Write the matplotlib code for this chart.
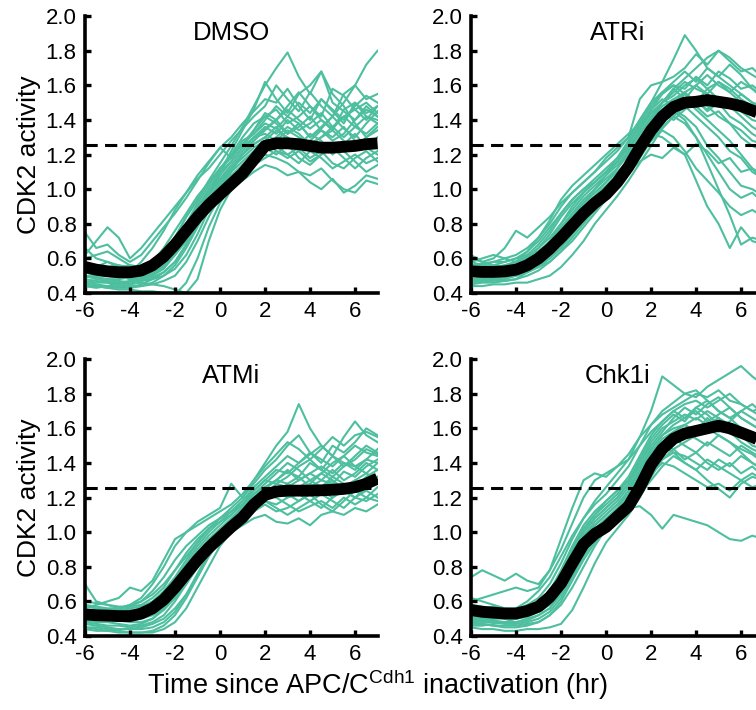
import numpy as np
import matplotlib
matplotlib.use("Agg")
import matplotlib.pyplot as plt

plt.rcParams['font.family'] = ['Liberation Sans', 'DejaVu Sans']
plt.rcParams['axes.unicode_minus'] = False

# time grid, every half hour from -6 to 7 hr
t = np.arange(-6, 7.01, 0.5)

titles = ["DMSO", "ATRi", "ATMi", "Chk1i"]
threshold = 1.255

dmso_mean = [0.55, 0.535, 0.525, 0.52, 0.52, 0.53, 0.56, 0.61, 0.68, 0.76, 0.84, 0.91, 0.97, 1.03,
             1.09, 1.17, 1.25, 1.265, 1.265, 1.26, 1.25, 1.24, 1.24, 1.245, 1.25, 1.26, 1.265]
dmso_cells = [
    [0.75, 0.66, 0.68, 0.62, 0.58, 0.62, 0.70, 0.78, 0.86, 0.95, 1.05, 1.15, 1.24, 1.30, 1.38, 1.45, 1.52, 1.50, 1.58, 1.48, 1.40, 1.52, 1.45, 1.38, 1.50, 1.42, 1.40],
    [0.62, 0.70, 0.78, 0.72, 0.60, 0.66, 0.74, 0.82, 0.90, 0.98, 1.06, 1.12, 1.20, 1.28, 1.35, 1.42, 1.48, 1.60, 1.52, 1.45, 1.56, 1.48, 1.42, 1.55, 1.60, 1.52, 1.55],
    [0.45, 0.44, 0.43, 0.42, 0.42, 0.41, 0.41, 0.40, 0.39, 0.46, 0.60, 0.78, 0.92, 1.02, 1.10, 1.16, 1.20, 1.18, 1.15, 1.10, 1.08, 1.12, 1.05, 1.00, 0.98, 1.05, 1.03],
    [0.50, 0.48, 0.47, 0.46, 0.45, 0.46, 0.45, 0.44, 0.42, 0.40, 0.48, 0.70, 0.88, 1.00, 1.08, 1.14, 1.18, 1.22, 1.20, 1.15, 1.22, 1.18, 1.12, 1.16, 1.20, 1.15, 1.18],
    [0.55, 0.52, 0.50, 0.50, 0.49, 0.50, 0.54, 0.62, 0.72, 0.84, 0.94, 1.05, 1.15, 1.25, 1.36, 1.48, 1.60, 1.70, 1.79, 1.65, 1.55, 1.68, 1.50, 1.45, 1.40, 1.48, 1.42],
    [0.48, 0.47, 0.46, 0.45, 0.46, 0.48, 0.52, 0.60, 0.70, 0.80, 0.90, 0.98, 1.05, 1.12, 1.20, 1.28, 1.35, 1.40, 1.32, 1.38, 1.30, 1.35, 1.42, 1.50, 1.60, 1.72, 1.80],
    [0.58, 0.56, 0.54, 0.53, 0.52, 0.50, 0.50, 0.54, 0.62, 0.70, 0.80, 0.88, 0.95, 1.00, 1.05, 1.10, 1.14, 1.12, 1.08, 1.10, 1.04, 1.00, 1.06, 0.98, 1.02, 1.08, 1.06],
    [0.52, 0.50, 0.50, 0.49, 0.52, 0.58, 0.66, 0.76, 0.88, 0.98, 1.08, 1.16, 1.24, 1.18, 1.28, 1.32, 1.38, 1.35, 1.42, 1.38, 1.30, 1.36, 1.42, 1.35, 1.30, 1.38, 1.45],
    [0.46, 0.45, 0.44, 0.44, 0.43, 0.45, 0.48, 0.52, 0.58, 0.68, 0.80, 0.92, 1.02, 1.10, 1.16, 1.22, 1.28, 1.34, 1.30, 1.25, 1.32, 1.28, 1.20, 1.26, 1.32, 1.24, 1.20],
    [0.66, 0.60, 0.58, 0.55, 0.56, 0.55, 0.58, 0.66, 0.76, 0.86, 0.96, 1.04, 1.10, 1.16, 1.24, 1.34, 1.44, 1.40, 1.48, 1.56, 1.48, 1.42, 1.58, 1.54, 1.46, 1.40, 1.48],
    [0.52, 0.55, 0.58, 0.56, 0.54, 0.54, 0.56, 0.60, 0.66, 0.74, 0.84, 0.94, 1.04, 1.12, 1.20, 1.26, 1.30, 1.25, 1.20, 1.24, 1.18, 1.22, 1.15, 1.12, 1.18, 1.22, 1.16],
    [0.44, 0.43, 0.44, 0.46, 0.47, 0.48, 0.50, 0.56, 0.64, 0.74, 0.86, 0.98, 1.10, 1.22, 1.34, 1.46, 1.62, 1.52, 1.44, 1.55, 1.60, 1.68, 1.55, 1.48, 1.38, 1.30, 1.36],
    [0.50, 0.49, 0.48, 0.48, 0.49, 0.50, 0.52, 0.56, 0.64, 0.74, 0.86, 0.98, 1.08, 1.16, 1.24, 1.30, 1.32, 1.28, 1.34, 1.30, 1.26, 1.30, 1.34, 1.28, 1.24, 1.30, 1.34],
    [0.56, 0.54, 0.52, 0.51, 0.50, 0.51, 0.53, 0.58, 0.66, 0.78, 0.90, 1.00, 1.10, 1.20, 1.30, 1.38, 1.42, 1.46, 1.38, 1.42, 1.48, 1.40, 1.35, 1.42, 1.46, 1.50, 1.44],
    [0.54, 0.53, 0.52, 0.50, 0.50, 0.50, 0.51, 0.55, 0.62, 0.72, 0.84, 0.96, 1.06, 1.14, 1.22, 1.30, 1.36, 1.32, 1.40, 1.34, 1.38, 1.44, 1.36, 1.30, 1.36, 1.42, 1.38],
    [0.47, 0.46, 0.46, 0.45, 0.44, 0.44, 0.46, 0.50, 0.56, 0.66, 0.78, 0.90, 1.00, 1.08, 1.14, 1.20, 1.24, 1.20, 1.26, 1.18, 1.14, 1.20, 1.26, 1.22, 1.16, 1.10, 1.14],
    [0.60, 0.62, 0.64, 0.60, 0.56, 0.55, 0.57, 0.62, 0.70, 0.80, 0.92, 1.02, 1.12, 1.20, 1.26, 1.32, 1.40, 1.48, 1.42, 1.50, 1.44, 1.52, 1.46, 1.40, 1.48, 1.54, 1.50],
    [0.50, 0.49, 0.48, 0.47, 0.46, 0.47, 0.49, 0.52, 0.58, 0.68, 0.80, 0.92, 1.02, 1.12, 1.20, 1.26, 1.30, 1.36, 1.28, 1.22, 1.28, 1.34, 1.30, 1.36, 1.28, 1.24, 1.30],
    [0.44, 0.44, 0.43, 0.43, 0.43, 0.44, 0.45, 0.47, 0.50, 0.58, 0.70, 0.84, 0.96, 1.06, 1.14, 1.20, 1.26, 1.30, 1.36, 1.32, 1.26, 1.30, 1.36, 1.42, 1.36, 1.32, 1.38],
    [0.57, 0.56, 0.55, 0.56, 0.55, 0.54, 0.56, 0.62, 0.72, 0.84, 0.94, 1.04, 1.12, 1.18, 1.26, 1.34, 1.42, 1.38, 1.32, 1.36, 1.42, 1.34, 1.28, 1.32, 1.40, 1.46, 1.42],
    [0.52, 0.51, 0.50, 0.50, 0.48, 0.49, 0.52, 0.58, 0.68, 0.80, 0.90, 0.98, 1.06, 1.12, 1.18, 1.24, 1.28, 1.22, 1.18, 1.22, 1.16, 1.20, 1.24, 1.18, 1.12, 1.18, 1.22],
    [0.49, 0.50, 0.52, 0.50, 0.48, 0.47, 0.48, 0.50, 0.54, 0.62, 0.74, 0.88, 1.00, 1.10, 1.20, 1.28, 1.34, 1.40, 1.46, 1.40, 1.35, 1.40, 1.34, 1.46, 1.50, 1.44, 1.48],
]

atri_mean = [0.525, 0.522, 0.522, 0.525, 0.535, 0.56, 0.60, 0.655, 0.72, 0.79, 0.86, 0.92, 0.97, 1.04,
             1.13, 1.24, 1.34, 1.42, 1.475, 1.50, 1.505, 1.515, 1.505, 1.495, 1.48, 1.455, 1.43]
atri_cells = [
    [0.62, 0.58, 0.60, 0.66, 0.76, 0.72, 0.78, 0.84, 0.92, 0.98, 1.04, 1.10, 1.18, 1.24, 1.30, 1.52, 1.60, 1.62, 1.65, 1.70, 1.78, 1.72, 1.80, 1.76, 1.70, 1.66, 1.62],
    [0.55, 0.56, 0.58, 0.60, 0.62, 0.66, 0.72, 0.80, 0.90, 0.98, 1.04, 1.10, 1.16, 1.22, 1.30, 1.40, 1.50, 1.62, 1.75, 1.89, 1.80, 1.70, 1.65, 1.60, 1.55, 1.50, 1.48],
    [0.50, 0.50, 0.52, 0.52, 0.54, 0.58, 0.64, 0.70, 0.78, 0.86, 0.92, 0.98, 1.04, 1.10, 1.16, 1.22, 1.30, 1.38, 1.45, 1.40, 1.30, 1.15, 1.00, 0.85, 0.68, 0.72, 0.70],
    [0.46, 0.47, 0.48, 0.50, 0.52, 0.55, 0.58, 0.64, 0.72, 0.80, 0.88, 0.95, 1.00, 1.08, 1.16, 1.25, 1.32, 1.30, 1.25, 1.20, 1.05, 0.90, 0.80, 0.66, 0.78, 0.70, 0.68],
    [0.56, 0.54, 0.53, 0.52, 0.52, 0.54, 0.56, 0.60, 0.66, 0.74, 0.82, 0.88, 0.95, 1.02, 1.10, 1.18, 1.28, 1.36, 1.42, 1.38, 1.30, 1.20, 1.10, 1.00, 0.95, 0.98, 0.92],
    [0.44, 0.44, 0.45, 0.45, 0.46, 0.46, 0.48, 0.50, 0.55, 0.62, 0.70, 0.80, 0.88, 0.96, 1.05, 1.15, 1.25, 1.35, 1.42, 1.48, 1.52, 1.45, 1.50, 1.42, 1.38, 1.32, 1.28],
    [0.52, 0.50, 0.48, 0.47, 0.48, 0.52, 0.58, 0.66, 0.76, 0.84, 0.92, 0.98, 1.04, 1.12, 1.22, 1.34, 1.46, 1.55, 1.60, 1.58, 1.65, 1.60, 1.68, 1.64, 1.58, 1.60, 1.55],
    [0.58, 0.60, 0.62, 0.60, 0.58, 0.62, 0.68, 0.76, 0.86, 0.94, 1.00, 1.06, 1.12, 1.18, 1.28, 1.40, 1.50, 1.56, 1.62, 1.68, 1.62, 1.70, 1.65, 1.72, 1.66, 1.58, 1.52],
    [0.48, 0.48, 0.49, 0.50, 0.50, 0.52, 0.55, 0.60, 0.66, 0.74, 0.82, 0.90, 0.98, 1.06, 1.14, 1.20, 1.28, 1.34, 1.30, 1.22, 1.12, 1.05, 0.98, 0.90, 0.85, 0.88, 0.84],
    [0.54, 0.55, 0.56, 0.58, 0.60, 0.62, 0.64, 0.68, 0.74, 0.82, 0.90, 0.96, 1.02, 1.08, 1.16, 1.26, 1.36, 1.46, 1.52, 1.56, 1.50, 1.58, 1.52, 1.48, 1.55, 1.50, 1.46],
    [0.50, 0.51, 0.52, 0.54, 0.56, 0.60, 0.66, 0.74, 0.84, 0.92, 0.98, 1.04, 1.10, 1.16, 1.24, 1.32, 1.40, 1.50, 1.58, 1.64, 1.70, 1.76, 1.80, 1.74, 1.68, 1.70, 1.64],
    [0.46, 0.47, 0.47, 0.48, 0.50, 0.52, 0.55, 0.58, 0.64, 0.70, 0.78, 0.86, 0.94, 1.02, 1.10, 1.16, 1.20, 1.18, 1.24, 1.20, 1.26, 1.22, 1.15, 1.18, 1.10, 1.12, 1.08],
    [0.60, 0.58, 0.56, 0.55, 0.56, 0.58, 0.62, 0.70, 0.80, 0.90, 0.98, 1.04, 1.10, 1.18, 1.26, 1.36, 1.46, 1.52, 1.48, 1.55, 1.48, 1.42, 1.45, 1.38, 1.30, 1.25, 1.22],
    [0.52, 0.52, 0.53, 0.55, 0.58, 0.64, 0.72, 0.82, 0.94, 1.02, 1.08, 1.14, 1.20, 1.26, 1.32, 1.38, 1.44, 1.50, 1.58, 1.52, 1.60, 1.55, 1.48, 1.52, 1.45, 1.40, 1.38],
    [0.50, 0.50, 0.51, 0.53, 0.55, 0.58, 0.62, 0.68, 0.76, 0.84, 0.92, 1.00, 1.08, 1.14, 1.22, 1.32, 1.42, 1.50, 1.56, 1.62, 1.58, 1.55, 1.62, 1.58, 1.52, 1.48, 1.44],
    [0.48, 0.49, 0.50, 0.51, 0.52, 0.54, 0.58, 0.64, 0.72, 0.80, 0.88, 0.94, 1.00, 1.06, 1.14, 1.24, 1.34, 1.42, 1.48, 1.52, 1.46, 1.40, 1.34, 1.28, 1.20, 1.12, 1.05],
    [0.56, 0.57, 0.58, 0.58, 0.60, 0.64, 0.70, 0.78, 0.86, 0.94, 1.00, 1.04, 1.10, 1.16, 1.24, 1.34, 1.44, 1.50, 1.54, 1.60, 1.64, 1.58, 1.62, 1.56, 1.50, 1.46, 1.40],
    [0.53, 0.52, 0.51, 0.50, 0.51, 0.54, 0.60, 0.66, 0.74, 0.82, 0.90, 0.96, 1.02, 1.08, 1.16, 1.28, 1.40, 1.48, 1.52, 1.48, 1.42, 1.36, 1.30, 1.22, 1.18, 1.10, 1.06],
    [0.45, 0.46, 0.46, 0.47, 0.48, 0.50, 0.53, 0.58, 0.64, 0.72, 0.80, 0.88, 0.96, 1.04, 1.14, 1.24, 1.36, 1.44, 1.50, 1.56, 1.60, 1.66, 1.60, 1.56, 1.62, 1.58, 1.54],
    [0.58, 0.56, 0.55, 0.56, 0.58, 0.61, 0.66, 0.72, 0.80, 0.88, 0.96, 1.02, 1.08, 1.16, 1.26, 1.38, 1.48, 1.56, 1.60, 1.55, 1.50, 1.46, 1.52, 1.48, 1.42, 1.36, 1.32],
    [0.51, 0.52, 0.54, 0.56, 0.58, 0.60, 0.63, 0.68, 0.76, 0.86, 0.94, 1.00, 1.06, 1.12, 1.20, 1.30, 1.38, 1.44, 1.40, 1.46, 1.52, 1.48, 1.42, 1.38, 1.34, 1.28, 1.26],
    [0.47, 0.48, 0.48, 0.49, 0.50, 0.53, 0.57, 0.62, 0.70, 0.78, 0.86, 0.92, 0.98, 1.04, 1.12, 1.22, 1.32, 1.40, 1.46, 1.42, 1.36, 1.25, 1.18, 1.10, 1.02, 1.00, 0.96],
]

atmi_mean = [0.525, 0.52, 0.518, 0.515, 0.515, 0.53, 0.56, 0.61, 0.68, 0.76, 0.84, 0.91, 0.97, 1.03,
             1.085, 1.16, 1.215, 1.235, 1.24, 1.24, 1.24, 1.242, 1.245, 1.25, 1.26, 1.28, 1.31]
atmi_cells = [
    [0.70, 0.60, 0.58, 0.56, 0.57, 0.60, 0.66, 0.74, 0.84, 0.92, 0.98, 1.04, 1.08, 1.12, 1.16, 1.20, 1.25, 1.30, 1.35, 1.32, 1.40, 1.36, 1.44, 1.38, 1.42, 1.48, 1.45],
    [0.55, 0.54, 0.55, 0.56, 0.58, 0.62, 0.70, 0.80, 0.92, 1.00, 1.06, 1.10, 1.14, 1.28, 1.20, 1.30, 1.40, 1.50, 1.58, 1.74, 1.60, 1.50, 1.44, 1.40, 1.38, 1.42, 1.40],
    [0.45, 0.44, 0.43, 0.43, 0.42, 0.42, 0.43, 0.46, 0.52, 0.62, 0.74, 0.86, 0.95, 1.00, 1.04, 1.08, 1.10, 1.06, 1.05, 1.08, 1.04, 1.10, 1.12, 1.10, 1.14, 1.12, 1.16],
    [0.50, 0.50, 0.50, 0.51, 0.52, 0.54, 0.58, 0.64, 0.72, 0.82, 0.92, 1.00, 1.06, 1.12, 1.18, 1.24, 1.30, 1.36, 1.34, 1.40, 1.45, 1.50, 1.44, 1.55, 1.64, 1.56, 1.52],
    [0.48, 0.47, 0.46, 0.46, 0.45, 0.46, 0.48, 0.52, 0.60, 0.70, 0.80, 0.90, 0.98, 1.04, 1.10, 1.15, 1.18, 1.16, 1.20, 1.22, 1.18, 1.14, 1.20, 1.24, 1.20, 1.18, 1.22],
    [0.56, 0.58, 0.60, 0.62, 0.68, 0.66, 0.72, 0.84, 0.96, 1.00, 1.04, 1.08, 1.12, 1.16, 1.22, 1.30, 1.38, 1.45, 1.52, 1.48, 1.42, 1.48, 1.55, 1.50, 1.56, 1.58, 1.55],
    [0.52, 0.51, 0.50, 0.49, 0.48, 0.48, 0.50, 0.55, 0.62, 0.72, 0.82, 0.92, 1.00, 1.06, 1.12, 1.18, 1.22, 1.28, 1.26, 1.30, 1.34, 1.30, 1.28, 1.35, 1.32, 1.38, 1.42],
    [0.44, 0.43, 0.43, 0.42, 0.42, 0.42, 0.42, 0.44, 0.48, 0.56, 0.68, 0.80, 0.92, 1.00, 1.06, 1.12, 1.16, 1.12, 1.14, 1.18, 1.22, 1.16, 1.12, 1.18, 1.24, 1.20, 1.26],
    [0.58, 0.57, 0.56, 0.56, 0.58, 0.60, 0.64, 0.70, 0.78, 0.86, 0.94, 1.02, 1.08, 1.14, 1.20, 1.28, 1.36, 1.42, 1.50, 1.56, 1.46, 1.40, 1.50, 1.46, 1.52, 1.60, 1.56],
    [0.54, 0.54, 0.53, 0.53, 0.54, 0.55, 0.58, 0.62, 0.70, 0.78, 0.86, 0.94, 1.00, 1.06, 1.12, 1.18, 1.22, 1.24, 1.20, 1.26, 1.30, 1.26, 1.32, 1.28, 1.26, 1.32, 1.36],
    [0.50, 0.52, 0.54, 0.55, 0.55, 0.54, 0.56, 0.60, 0.66, 0.74, 0.84, 0.92, 1.00, 1.08, 1.14, 1.20, 1.26, 1.30, 1.28, 1.24, 1.28, 1.34, 1.30, 1.25, 1.30, 1.34, 1.30],
    [0.47, 0.46, 0.45, 0.44, 0.44, 0.45, 0.47, 0.50, 0.56, 0.64, 0.74, 0.86, 0.96, 1.04, 1.10, 1.16, 1.22, 1.20, 1.16, 1.12, 1.15, 1.18, 1.14, 1.20, 1.16, 1.20, 1.18],
    [0.53, 0.52, 0.52, 0.51, 0.51, 0.52, 0.55, 0.60, 0.68, 0.78, 0.88, 0.96, 1.02, 1.08, 1.14, 1.20, 1.26, 1.22, 1.28, 1.32, 1.26, 1.30, 1.36, 1.30, 1.34, 1.40, 1.36],
    [0.49, 0.48, 0.48, 0.47, 0.46, 0.47, 0.50, 0.56, 0.64, 0.74, 0.84, 0.94, 1.00, 1.06, 1.12, 1.18, 1.24, 1.20, 1.26, 1.22, 1.28, 1.24, 1.20, 1.26, 1.30, 1.26, 1.32],
    [0.57, 0.56, 0.55, 0.55, 0.56, 0.57, 0.60, 0.66, 0.74, 0.84, 0.94, 1.02, 1.08, 1.12, 1.18, 1.26, 1.32, 1.38, 1.44, 1.40, 1.46, 1.42, 1.38, 1.44, 1.50, 1.46, 1.44],
    [0.45, 0.45, 0.44, 0.44, 0.44, 0.44, 0.45, 0.48, 0.54, 0.64, 0.76, 0.88, 0.98, 1.04, 1.10, 1.14, 1.18, 1.14, 1.10, 1.14, 1.18, 1.22, 1.18, 1.14, 1.20, 1.24, 1.20],
    [0.55, 0.55, 0.54, 0.54, 0.53, 0.54, 0.57, 0.62, 0.70, 0.80, 0.90, 0.98, 1.04, 1.10, 1.16, 1.22, 1.26, 1.30, 1.36, 1.30, 1.34, 1.38, 1.34, 1.40, 1.36, 1.42, 1.48],
    [0.51, 0.50, 0.49, 0.49, 0.50, 0.51, 0.53, 0.58, 0.66, 0.76, 0.86, 0.94, 1.00, 1.06, 1.12, 1.18, 1.22, 1.26, 1.22, 1.18, 1.22, 1.26, 1.30, 1.24, 1.20, 1.26, 1.30],
    [0.48, 0.49, 0.50, 0.50, 0.49, 0.50, 0.52, 0.56, 0.62, 0.70, 0.80, 0.90, 0.98, 1.06, 1.14, 1.22, 1.28, 1.34, 1.40, 1.36, 1.30, 1.34, 1.40, 1.44, 1.38, 1.34, 1.40],
    [0.60, 0.59, 0.58, 0.57, 0.57, 0.58, 0.62, 0.68, 0.78, 0.88, 0.96, 1.02, 1.06, 1.10, 1.16, 1.24, 1.30, 1.28, 1.32, 1.38, 1.42, 1.36, 1.32, 1.38, 1.44, 1.50, 1.46],
]

chk1i_mean = [0.55, 0.54, 0.535, 0.53, 0.53, 0.545, 0.57, 0.625, 0.705, 0.82, 0.93, 0.99, 1.03, 1.09,
              1.15, 1.26, 1.39, 1.48, 1.54, 1.57, 1.585, 1.60, 1.615, 1.60, 1.575, 1.55, 1.52]
chk1i_cells = [
    [0.50, 0.49, 0.48, 0.47, 0.47, 0.48, 0.50, 0.54, 0.62, 0.74, 0.86, 0.96, 1.04, 1.10, 1.14, 1.15, 1.10, 1.02, 1.10, 1.08, 1.06, 1.04, 1.00, 0.96, 0.95, 0.98, 0.96],
    [0.58, 0.56, 0.55, 0.54, 0.55, 0.58, 0.62, 0.70, 0.82, 0.96, 1.08, 1.18, 1.26, 1.34, 1.42, 1.55, 1.70, 1.90, 1.85, 1.80, 1.82, 1.76, 1.70, 1.66, 1.60, 1.55, 1.50],
    [0.52, 0.52, 0.53, 0.54, 0.56, 0.60, 0.66, 0.74, 0.86, 0.98, 1.08, 1.16, 1.22, 1.30, 1.38, 1.50, 1.62, 1.70, 1.75, 1.80, 1.78, 1.84, 1.88, 1.92, 1.96, 1.90, 1.85],
    [0.74, 0.78, 0.75, 0.72, 0.76, 0.72, 0.70, 0.78, 0.90, 1.05, 1.20, 1.30, 1.34, 1.38, 1.42, 1.50, 1.58, 1.64, 1.70, 1.66, 1.72, 1.68, 1.62, 1.58, 1.52, 1.48, 1.45],
    [0.48, 0.47, 0.46, 0.45, 0.45, 0.46, 0.48, 0.52, 0.58, 0.68, 0.80, 0.92, 1.02, 1.10, 1.18, 1.26, 1.34, 1.40, 1.38, 1.34, 1.30, 1.26, 1.28, 1.24, 1.30, 1.26, 1.28],
    [0.56, 0.55, 0.54, 0.54, 0.53, 0.54, 0.56, 0.62, 0.72, 0.86, 1.00, 1.08, 1.14, 1.20, 1.28, 1.40, 1.52, 1.60, 1.64, 1.68, 1.65, 1.70, 1.66, 1.62, 1.58, 1.54, 1.50],
    [0.45, 0.44, 0.44, 0.43, 0.43, 0.44, 0.44, 0.45, 0.47, 0.55, 0.68, 0.82, 0.94, 1.02, 1.10, 1.20, 1.32, 1.42, 1.48, 1.52, 1.56, 1.60, 1.56, 1.52, 1.48, 1.45, 1.40],
    [0.60, 0.62, 0.64, 0.66, 0.68, 0.66, 0.68, 0.78, 0.96, 1.14, 1.30, 1.34, 1.32, 1.38, 1.45, 1.55, 1.62, 1.68, 1.72, 1.76, 1.80, 1.78, 1.82, 1.76, 1.74, 1.70, 1.72],
    [0.52, 0.50, 0.49, 0.48, 0.48, 0.50, 0.52, 0.56, 0.64, 0.76, 0.88, 0.98, 1.06, 1.12, 1.20, 1.30, 1.42, 1.50, 1.48, 1.42, 1.46, 1.40, 1.36, 1.40, 1.34, 1.38, 1.32],
    [0.54, 0.53, 0.52, 0.52, 0.50, 0.52, 0.56, 0.62, 0.74, 0.88, 0.98, 1.04, 1.10, 1.16, 1.24, 1.36, 1.48, 1.56, 1.60, 1.62, 1.58, 1.66, 1.60, 1.64, 1.70, 1.66, 1.62],
    [0.46, 0.46, 0.47, 0.48, 0.50, 0.52, 0.54, 0.58, 0.66, 0.78, 0.90, 0.98, 1.04, 1.10, 1.16, 1.24, 1.34, 1.44, 1.52, 1.58, 1.54, 1.50, 1.56, 1.52, 1.46, 1.40, 1.36],
    [0.50, 0.51, 0.52, 0.53, 0.54, 0.56, 0.60, 0.66, 0.76, 0.90, 1.02, 1.10, 1.18, 1.24, 1.30, 1.40, 1.50, 1.58, 1.66, 1.72, 1.68, 1.74, 1.78, 1.72, 1.66, 1.62, 1.58],
    [0.56, 0.54, 0.52, 0.50, 0.50, 0.52, 0.55, 0.60, 0.70, 0.84, 0.96, 1.04, 1.10, 1.16, 1.22, 1.32, 1.44, 1.50, 1.46, 1.40, 1.36, 1.30, 1.25, 1.20, 1.28, 1.32, 1.30],
    [0.53, 0.52, 0.51, 0.51, 0.52, 0.54, 0.58, 0.64, 0.74, 0.88, 1.00, 1.08, 1.14, 1.20, 1.28, 1.38, 1.48, 1.56, 1.62, 1.66, 1.70, 1.64, 1.68, 1.72, 1.66, 1.62, 1.58],
    [0.49, 0.48, 0.48, 0.48, 0.48, 0.49, 0.52, 0.56, 0.66, 0.80, 0.92, 1.00, 1.06, 1.12, 1.20, 1.30, 1.40, 1.48, 1.54, 1.50, 1.46, 1.52, 1.48, 1.44, 1.50, 1.46, 1.42],
    [0.62, 0.60, 0.58, 0.56, 0.56, 0.57, 0.60, 0.66, 0.78, 0.92, 1.04, 1.12, 1.18, 1.24, 1.32, 1.44, 1.56, 1.64, 1.70, 1.74, 1.76, 1.72, 1.76, 1.80, 1.74, 1.70, 1.66],
    [0.47, 0.47, 0.46, 0.46, 0.46, 0.47, 0.48, 0.52, 0.60, 0.72, 0.84, 0.94, 1.02, 1.08, 1.14, 1.22, 1.30, 1.38, 1.44, 1.40, 1.36, 1.42, 1.38, 1.34, 1.30, 1.34, 1.30],
    [0.55, 0.56, 0.57, 0.56, 0.55, 0.56, 0.58, 0.64, 0.74, 0.86, 0.98, 1.06, 1.12, 1.18, 1.26, 1.36, 1.46, 1.54, 1.58, 1.62, 1.66, 1.62, 1.58, 1.62, 1.58, 1.54, 1.52],
    [0.51, 0.50, 0.50, 0.50, 0.50, 0.51, 0.54, 0.60, 0.70, 0.82, 0.94, 1.02, 1.08, 1.14, 1.22, 1.34, 1.46, 1.52, 1.58, 1.62, 1.58, 1.62, 1.66, 1.60, 1.56, 1.50, 1.48],
    [0.58, 0.57, 0.56, 0.55, 0.54, 0.55, 0.58, 0.64, 0.76, 0.90, 1.02, 1.10, 1.16, 1.22, 1.30, 1.42, 1.54, 1.62, 1.68, 1.64, 1.72, 1.76, 1.70, 1.66, 1.70, 1.74, 1.68],
    [0.48, 0.49, 0.50, 0.52, 0.53, 0.54, 0.56, 0.60, 0.68, 0.80, 0.92, 1.00, 1.06, 1.12, 1.18, 1.26, 1.36, 1.42, 1.46, 1.44, 1.40, 1.36, 1.42, 1.38, 1.44, 1.40, 1.36],
]

means = [dmso_mean, atri_mean, atmi_mean, chk1i_mean]
cells = [dmso_cells, atri_cells, atmi_cells, chk1i_cells]

teal = "#4dbf9f"

fig = plt.figure(figsize=(7.56, 7.10), dpi=100)
# [left, bottom, width, height]; the right column runs past the figure edge like the original
w, h = 0.387, 0.390
boxes = [[0.1124, 0.5873, w, h], [0.623, 0.5873, w, h],
         [0.1124, 0.1042, w, h], [0.623, 0.1042, w, h]]

for i in range(4):
    ax = fig.add_axes(boxes[i])
    for c in cells[i]:
        ax.plot(t, c, color=teal, lw=1.5, zorder=1)
    ax.plot(t, means[i], color='black', lw=8.5, solid_capstyle='butt', zorder=3)
    ax.axhline(threshold, color='black', lw=2.2, dashes=(4, 2.4), zorder=4)
    ax.set_xlim(-6, 7)
    ax.set_ylim(0.4, 2.0)
    ax.set_xticks([-6, -4, -2, 0, 2, 4, 6])
    ax.set_yticks(np.arange(0.4, 2.01, 0.2))
    ax.set_yticklabels(['%.1f' % v for v in np.arange(0.4, 2.01, 0.2)])
    for s in ['top', 'right']:
        ax.spines[s].set_visible(False)
    for s in ['left', 'bottom']:
        ax.spines[s].set_linewidth(2.6)
        ax.spines[s].set_zorder(5)
    ax.tick_params(direction='in', length=4, width=2.4, labelsize=16, pad=6)
    ax.text(0.5, 0.94, titles[i], transform=ax.transAxes,
            ha='center', va='center', fontsize=18.5)
    if i in (0, 2):
        ax.set_ylabel("CDK2 activity", fontsize=19, labelpad=3)

fig.text(0.5, 0.036, r"Time since APC/C$^{\mathregular{Cdh1}}$ inactivation (hr)",
         ha='center', va='center', fontsize=19.5)

fig.savefig("out.png", dpi=100)
